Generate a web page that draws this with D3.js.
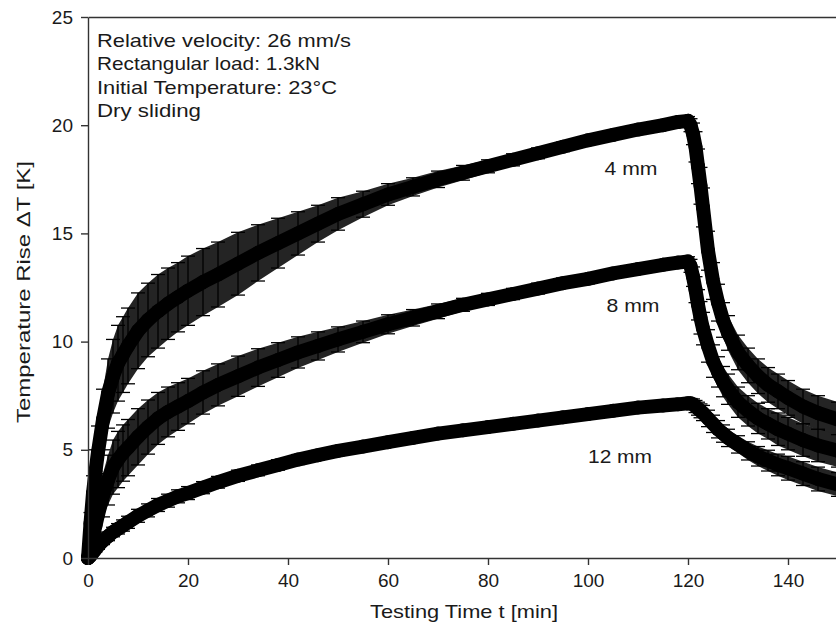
<!DOCTYPE html>
<html>
<head>
<meta charset="utf-8">
<script src="https://cdnjs.cloudflare.com/ajax/libs/d3/7.8.5/d3.min.js"></script>
<style>
body { margin: 0; background: #fff; }
svg text { font-family: "Liberation Sans", Arial, sans-serif; fill: #1a1a1a; }
</style>
</head>
<body>
<div id="dataviz"></div>
<script>
// tempi di misura [min]
var times = [0, 0.5, 1, 1.5, 2, 3, 4, 5, 6, 7, 8, 10, 12, 14, 16, 18, 20, 23, 26, 30,
	34, 38, 42, 46, 50, 55, 60, 65, 70, 75, 80, 85, 90, 95, 100, 105, 110, 115, 118, 120,
	120.5, 121, 121.5, 122, 122.5, 123, 124, 125, 126, 127, 128, 130, 132, 134, 136, 138, 140, 143, 146, 150];

// 4 mm
var mean_4mm = [0, 1.6, 3.0, 4.0, 4.9, 6.4, 7.6, 8.4, 9.0, 9.4, 9.8, 10.5, 11.0, 11.4, 11.75, 12.05, 12.35, 12.75, 13.1, 13.6,
	14.1, 14.55, 15.0, 15.45, 15.9, 16.35, 16.8, 17.15, 17.5, 17.8, 18.1, 18.4, 18.7, 19.0, 19.3, 19.55, 19.8, 20.0, 20.15, 20.2,
	20.0, 19.6, 19.0, 18.1, 17.2, 16.2, 14.2, 12.8, 11.8, 11.0, 10.4, 9.5, 8.9, 8.4, 8.0, 7.7, 7.4, 7.0, 6.7, 6.4];
var sd_4mm = [0, 0.5, 0.8, 1.0, 1.2, 1.4, 1.6, 1.7, 1.75, 1.75, 1.75, 1.75, 1.7, 1.7, 1.65, 1.6, 1.6, 1.55, 1.5, 1.45,
	1.3, 1.15, 1.0, 0.85, 0.75, 0.6, 0.5, 0.42, 0.38, 0.34, 0.3, 0.28, 0.25, 0.22, 0.2, 0.2, 0.2, 0.2, 0.2, 0.2,
	0.3, 0.5, 0.7, 0.8, 0.85, 0.9, 0.9, 0.85, 0.85, 0.8, 0.8, 0.8, 0.8, 0.8, 0.8, 0.8, 0.8, 0.8, 0.8, 0.8];

// 8 mm
var mean_8mm = [0, 0.5, 1.0, 1.5, 2.0, 2.9, 3.6, 4.2, 4.55, 4.85, 5.1, 5.6, 6.05, 6.45, 6.75, 7.0, 7.25, 7.65, 8.0, 8.4,
	8.8, 9.15, 9.5, 9.8, 10.1, 10.45, 10.8, 11.1, 11.4, 11.7, 11.95, 12.2, 12.45, 12.7, 12.9, 13.15, 13.35, 13.55, 13.65, 13.7,
	13.5, 13.0, 12.4, 11.7, 11.1, 10.6, 9.8, 9.1, 8.6, 8.15, 7.8, 7.2, 6.8, 6.45, 6.2, 5.95, 5.75, 5.45, 5.2, 4.95];
var sd_8mm = [0, 0.3, 0.5, 0.7, 0.85, 1.0, 1.15, 1.25, 1.3, 1.3, 1.3, 1.3, 1.25, 1.2, 1.15, 1.1, 1.05, 1.0, 0.97, 0.93,
	0.87, 0.8, 0.72, 0.65, 0.58, 0.5, 0.44, 0.38, 0.34, 0.3, 0.28, 0.26, 0.25, 0.24, 0.23, 0.22, 0.22, 0.22, 0.22, 0.22,
	0.3, 0.45, 0.6, 0.7, 0.75, 0.75, 0.75, 0.75, 0.7, 0.7, 0.7, 0.7, 0.7, 0.7, 0.7, 0.75, 0.75, 0.75, 0.75, 0.75];

// 12 mm
var mean_12mm = [0, 0.1, 0.25, 0.4, 0.55, 0.8, 1.0, 1.2, 1.35, 1.5, 1.65, 1.95, 2.2, 2.45, 2.65, 2.85, 3.0, 3.25, 3.5, 3.8,
	4.05, 4.3, 4.55, 4.75, 4.95, 5.15, 5.35, 5.55, 5.75, 5.9, 6.05, 6.2, 6.35, 6.5, 6.65, 6.8, 6.95, 7.05, 7.1, 7.15,
	7.15, 7.1, 7.0, 6.9, 6.8, 6.7, 6.45, 6.2, 5.95, 5.75, 5.55, 5.25, 4.95, 4.7, 4.5, 4.3, 4.15, 3.9, 3.65, 3.4];
var sd_12mm = [0, 0.05, 0.1, 0.12, 0.15, 0.18, 0.2, 0.22, 0.24, 0.26, 0.28, 0.3, 0.3, 0.3, 0.3, 0.3, 0.3, 0.28, 0.27, 0.26,
	0.25, 0.24, 0.23, 0.22, 0.22, 0.21, 0.2, 0.2, 0.2, 0.2, 0.2, 0.2, 0.2, 0.2, 0.2, 0.2, 0.2, 0.2, 0.2, 0.2,
	0.22, 0.25, 0.28, 0.3, 0.32, 0.35, 0.38, 0.4, 0.4, 0.4, 0.4, 0.4, 0.42, 0.45, 0.48, 0.5, 0.55, 0.55, 0.55, 0.55];

var x_ticks = [0, 20, 40, 60, 80, 100, 120, 140];
var y_ticks = [0, 5, 10, 15, 20, 25];
var series_names = ["4 mm", "8 mm", "12 mm"];
var notes = ["Relative velocity: 26 mm/s", "Rectangular load: 1.3kN", "Initial Temperature: 23°C", "Dry sliding"];

// funzione per generare la chart
function draw_chart(){
	var width = 836;
	var height = 631;

	var svg = d3.select("#dataviz").append("svg")
		.attr("width", width)
		.attr("height", height);

	var x = d3.scaleLinear().domain([0, 150]).range([88, 838]);
	var y = d3.scaleLinear().domain([0, 25]).range([558, 17]);

	var series = [
		{ name: series_names[0], mean: mean_4mm, sd: sd_4mm },
		{ name: series_names[1], mean: mean_8mm, sd: sd_8mm },
		{ name: series_names[2], mean: mean_12mm, sd: sd_12mm }
	];

	svg.append("clipPath").attr("id", "plot_clip")
		.append("rect")
		.attr("x", 60).attr("y", 0)
		.attr("width", 776).attr("height", 572);

	var plot = svg.append("g").attr("clip-path", "url(#plot_clip)");

	series.forEach(function(s){
		var pts = times.map(function(t, i){
			return { t: t, m: s.mean[i], sd: s.sd[i] };
		});

		// banda delle barre d'errore
		var band = d3.area()
			.x(function(d) { return x(d.t); })
			.y0(function(d) { return y(d.m - d.sd); })
			.y1(function(d) { return y(d.m + d.sd); });

		plot.append("path")
			.datum(pts)
			.attr("d", band)
			.style("fill", "#242424");

		var bars = plot.append("g").selectAll("g")
			.data(pts)
			.enter()
			.append("g")
			.style("stroke", "#000")
			.style("stroke-width", 1.3);

		bars.append("line")
			.attr("x1", function(d) { return x(d.t); })
			.attr("x2", function(d) { return x(d.t); })
			.attr("y1", function(d) { return y(d.m - d.sd); })
			.attr("y2", function(d) { return y(d.m + d.sd); });

		bars.append("line")
			.attr("x1", function(d) { return x(d.t) - 7; })
			.attr("x2", function(d) { return x(d.t) + 7; })
			.attr("y1", function(d) { return y(d.m + d.sd); })
			.attr("y2", function(d) { return y(d.m + d.sd); });

		bars.append("line")
			.attr("x1", function(d) { return x(d.t) - 7; })
			.attr("x2", function(d) { return x(d.t) + 7; })
			.attr("y1", function(d) { return y(d.m - d.sd); })
			.attr("y2", function(d) { return y(d.m - d.sd); });

		// linea spessa che unisce i punti
		var line = d3.line()
			.x(function(d) { return x(d.t); })
			.y(function(d) { return y(d.m); });

		plot.append("path")
			.datum(pts)
			.attr("d", line)
			.style("fill", "none")
			.style("stroke", "#000")
			.style("stroke-width", 14)
			.style("stroke-linejoin", "round")
			.style("stroke-linecap", "round");

		plot.append("g").selectAll("circle")
			.data(pts)
			.enter()
			.append("circle")
			.attr("cx", function(d) { return x(d.t); })
			.attr("cy", function(d) { return y(d.m); })
			.attr("r", 7)
			.style("fill", "#000");
	});

	// assi
	var x_axis = d3.axisBottom(x).tickValues(x_ticks).tickSize(7).tickSizeOuter(0).tickPadding(9);
	var y_axis = d3.axisLeft(y).tickValues(y_ticks).tickSize(7).tickSizeOuter(0).tickPadding(8);
	var top_axis = d3.axisTop(x).tickValues([]).tickSizeOuter(0);

	var gx = svg.append("g").attr("transform", "translate(0," + y(0) + ")").call(x_axis);
	var gy = svg.append("g").attr("transform", "translate(" + x(0) + ",0)").call(y_axis);
	var gt = svg.append("g").attr("transform", "translate(0," + y(25) + ")").call(top_axis);

	[gx, gy, gt].forEach(function(g){
		g.selectAll("path, line").style("stroke", "#333").style("stroke-width", 1.4);
		g.selectAll("text").style("font-size", "19px").style("fill", "#1a1a1a");
	});

	// etichette degli assi
	svg.append("text")
		.attr("x", 464).attr("y", 618)
		.attr("text-anchor", "middle")
		.attr("textLength", 188)
		.attr("lengthAdjust", "spacingAndGlyphs")
		.style("font-size", "18.5px")
		.text("Testing Time t [min]");

	svg.append("text")
		.attr("transform", "translate(30,292) rotate(-90)")
		.attr("text-anchor", "middle")
		.attr("textLength", 262)
		.attr("lengthAdjust", "spacingAndGlyphs")
		.style("font-size", "18.5px")
		.text("Temperature Rise \u0394T [K]");

	// note in alto a sinistra
	var note_w = [254, 223, 240, 104];
	svg.append("g").selectAll("text")
		.data(notes)
		.enter()
		.append("text")
		.attr("x", 97)
		.attr("y", function(d, i) { return 47 + i * 23.3; })
		.attr("textLength", function(d, i) { return note_w[i]; })
		.attr("lengthAdjust", "spacingAndGlyphs")
		.style("font-size", "18.5px")
		.text(function(d) { return d; });

	// nomi delle serie
	var label_pos = [[631, 175, 53], [633, 312, 53], [620, 463, 64]];
	svg.append("g").selectAll("text")
		.data(series_names)
		.enter()
		.append("text")
		.attr("x", function(d, i) { return label_pos[i][0]; })
		.attr("y", function(d, i) { return label_pos[i][1]; })
		.attr("text-anchor", "middle")
		.attr("textLength", function(d, i) { return label_pos[i][2]; })
		.attr("lengthAdjust", "spacingAndGlyphs")
		.style("font-size", "18.5px")
		.text(function(d) { return d; });
}

draw_chart();
</script>
</body>
</html>
